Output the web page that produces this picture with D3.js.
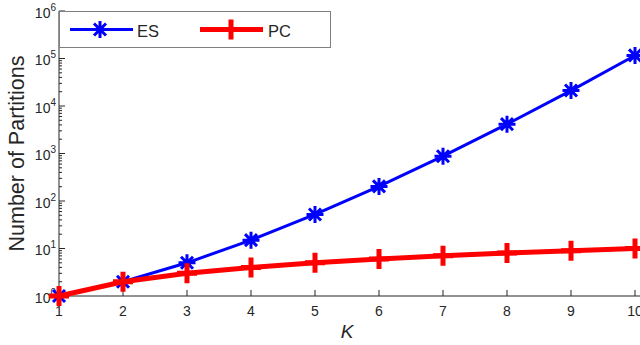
<!DOCTYPE html>
<html>
<head>
<meta charset="utf-8">
<script src="https://cdn.jsdelivr.net/npm/d3@7"></script>
<style>
  body { margin: 0; background: #fff; }
  text { font-family: "Liberation Sans", Arial, sans-serif; fill: #262626; }
</style>
</head>
<body>
<div id="chart"></div>
<script>
(function(){
    var width = 640;
    var height = 345;

    // data
    var kValues = [1, 2, 3, 4, 5, 6, 7, 8, 9, 10];
    var esValues = [1, 2, 5, 15, 52, 203, 877, 4140, 21147, 115975];
    var pcValues = [1, 2, 3, 4, 5, 6, 7, 8, 9, 10];
    var yExponents = [0, 1, 2, 3, 4, 5, 6];
    var seriesNames = ["ES", "PC"];

    var margin = {left: 59, right: 5, top: 11, bottom: 49};

    var svg = d3.select("#chart")
        .append("svg")
        .attr("width", width)
        .attr("height", height);

    var x = d3.scaleLinear().domain([1, 10]).range([margin.left, 635]);
    var y = d3.scaleLog().domain([1, 1e6]).range([296, margin.top]);

    var axisColor = "#262626";
    var g = svg.append("g");

    // x axis
    g.append("line")
        .attr("x1", x(1)).attr("x2", width)
        .attr("y1", y(1)).attr("y2", y(1))
        .attr("stroke", axisColor).attr("stroke-width", 1);
    kValues.forEach(function(k){
        g.append("line")
            .attr("x1", x(k)).attr("x2", x(k))
            .attr("y1", y(1)).attr("y2", y(1) - 6)
            .attr("stroke", axisColor);
        g.append("text")
            .attr("x", x(k)).attr("y", y(1) + 20)
            .attr("text-anchor", "middle")
            .attr("font-size", 14)
            .text(k);
    });

    // y axis
    g.append("line")
        .attr("x1", x(1)).attr("x2", x(1))
        .attr("y1", y(1)).attr("y2", y(1e6))
        .attr("stroke", axisColor);
    yExponents.forEach(function(e){
        var v = Math.pow(10, e);
        g.append("line")
            .attr("x1", x(1)).attr("x2", x(1) + 6)
            .attr("y1", y(v)).attr("y2", y(v))
            .attr("stroke", axisColor);
        if (e < 6) {
            for (var m = 2; m < 10; m++) {
                g.append("line")
                    .attr("x1", x(1)).attr("x2", x(1) + 3)
                    .attr("y1", y(m * v)).attr("y2", y(m * v))
                    .attr("stroke", axisColor);
            }
        }
        var t = g.append("text")
            .attr("x", x(1) - 3).attr("y", y(v) + 6.5)
            .attr("text-anchor", "end")
            .attr("font-size", 14);
        t.append("tspan").text("10");
        t.append("tspan").attr("font-size", 10).attr("dy", -7).text(e);
    });

    // axis labels
    svg.append("text")
        .attr("transform", "translate(24," + ((y(1) + y(1e6)) / 2) + ") rotate(-90)")
        .attr("text-anchor", "middle")
        .attr("font-size", 21.5)
        .text("Number of Partitions");
    svg.append("text")
        .attr("x", (x(1) + x(10)) / 2).attr("y", 338)
        .attr("text-anchor", "middle")
        .attr("font-size", 19)
        .attr("font-style", "italic")
        .text("K");

    // markers
    function asterisk(s) {
        var d = s * 0.707;
        return "M" + (-s) + ",0L" + s + ",0M0," + (-s) + "L0," + s +
            "M" + (-d) + "," + (-d) + "L" + d + "," + d +
            "M" + (-d) + "," + d + "L" + d + "," + (-d);
    }
    function plus(s) {
        return "M" + (-s) + ",0L" + s + ",0M0," + (-s) + "L0," + s;
    }

    var line = d3.line()
        .x(function(d){ return x(d[0]); })
        .y(function(d){ return y(d[1]); });

    var esData = d3.zip(kValues, esValues);
    var pcData = d3.zip(kValues, pcValues);

    svg.append("path").datum(esData)
        .attr("d", line).attr("fill", "none")
        .attr("stroke", "#0000ff").attr("stroke-width", 3);
    svg.selectAll(".es").data(esData).enter().append("path")
        .attr("class", "es")
        .attr("transform", function(d){ return "translate(" + x(d[0]) + "," + y(d[1]) + ")"; })
        .attr("d", asterisk(8.5))
        .attr("stroke", "#0000ff").attr("stroke-width", 3).attr("fill", "none");

    svg.append("path").datum(pcData)
        .attr("d", line).attr("fill", "none")
        .attr("stroke", "#ff0000").attr("stroke-width", 5);
    svg.selectAll(".pc").data(pcData).enter().append("path")
        .attr("class", "pc")
        .attr("transform", function(d){ return "translate(" + x(d[0]) + "," + y(d[1]) + ")"; })
        .attr("d", plus(10))
        .attr("stroke", "#ff0000").attr("stroke-width", 5).attr("fill", "none");

    // legend
    var lg = svg.append("g");
    lg.append("rect")
        .attr("x", 59.5).attr("y", 11.5)
        .attr("width", 271).attr("height", 36)
        .attr("fill", "#fff").attr("stroke", "#808080").attr("stroke-width", 1);
    var ly = 29.5;
    lg.append("line").attr("x1", 70).attr("x2", 133).attr("y1", ly).attr("y2", ly)
        .attr("stroke", "#0000ff").attr("stroke-width", 3);
    lg.append("path").attr("transform", "translate(100," + ly + ")")
        .attr("d", asterisk(8.5))
        .attr("stroke", "#0000ff").attr("stroke-width", 3).attr("fill", "none");
    lg.append("text").attr("x", 137).attr("y", ly + 7).attr("font-size", 16.5).text(seriesNames[0]);
    lg.append("line").attr("x1", 200).attr("x2", 263).attr("y1", ly).attr("y2", ly)
        .attr("stroke", "#ff0000").attr("stroke-width", 5);
    lg.append("path").attr("transform", "translate(231," + ly + ")")
        .attr("d", plus(10))
        .attr("stroke", "#ff0000").attr("stroke-width", 5).attr("fill", "none");
    lg.append("text").attr("x", 268).attr("y", ly + 7).attr("font-size", 16.5).text(seriesNames[1]);
})();
</script>
</body>
</html>
